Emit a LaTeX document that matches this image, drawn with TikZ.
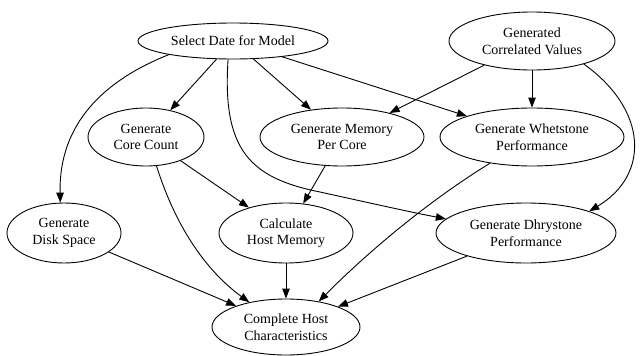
\documentclass[tikz,border=0pt]{standalone}
\usepackage{fontspec}
\setmainfont{Liberation Serif}
\usetikzlibrary{arrows.meta,shapes.geometric}
\begin{document}
\begin{tikzpicture}[x=1pt,y=-1pt,
  every node/.style={font=\fontsize{14}{16.5}\selectfont},
  ell/.style={draw, ellipse, line width=0.9pt, inner sep=0pt, align=center},
  edge/.style={line width=0.9pt, -{Triangle[length=10pt,width=7.5pt]}}]
\useasboundingbox (0,0) rectangle (640,356);
\node[ell, minimum width=190pt, minimum height=36pt] (sel) at (233,41) {Select Date for Model};
\node[ell, minimum width=166pt, minimum height=58pt] (cor) at (532,41) {Generated\\Correlated Values};
\node[ell, minimum width=116pt, minimum height=58pt] (core) at (146,137) {Generate\\Core Count};
\node[ell, minimum width=164pt, minimum height=58pt] (mem) at (342,137) {Generate Memory\\Per Core};
\node[ell, minimum width=184pt, minimum height=58pt] (whet) at (532,137) {Generate Whetstone\\Performance};
\node[ell, minimum width=114pt, minimum height=60pt] (disk) at (64,233) {Generate\\Disk Space};
\node[ell, minimum width=134pt, minimum height=60pt] (calc) at (286,233) {Calculate\\Host Memory};
\node[ell, minimum width=180pt, minimum height=60pt] (dhry) at (526,233) {Generate Dhrystone\\Performance};
\node[ell, minimum width=148pt, minimum height=56pt] (comp) at (286,327) {Complete Host\\Characteristics};

\draw[edge] (sel) -- (core);
\draw[edge] (sel) -- (mem);
\draw[edge] (sel) -- (whet);
\draw[edge] (sel.192) .. controls (85,88) and (59,140) .. (disk.97);
\draw[edge] (sel.255) .. controls (222,150) and (250,178) .. (320,192) .. controls (370,203) and (410,212) .. (dhry.170);
\draw[edge] (cor) -- (mem);
\draw[edge] (cor) -- (whet);
\draw[edge] (cor.336) .. controls (648,110) and (650,175) .. (dhry.19);
\draw[edge] (core) -- (calc);
\draw[edge] (core.290) .. controls (175,225) and (205,270) .. (comp.146);
\draw[edge] (mem) -- (calc);
\draw[edge] (whet.212) .. controls (430,200) and (370,250) .. (comp.38);
\draw[edge] (calc) -- (comp);
\draw[edge] (disk) -- (comp);
\draw[edge] (dhry) -- (comp);
\end{tikzpicture}
\end{document}
